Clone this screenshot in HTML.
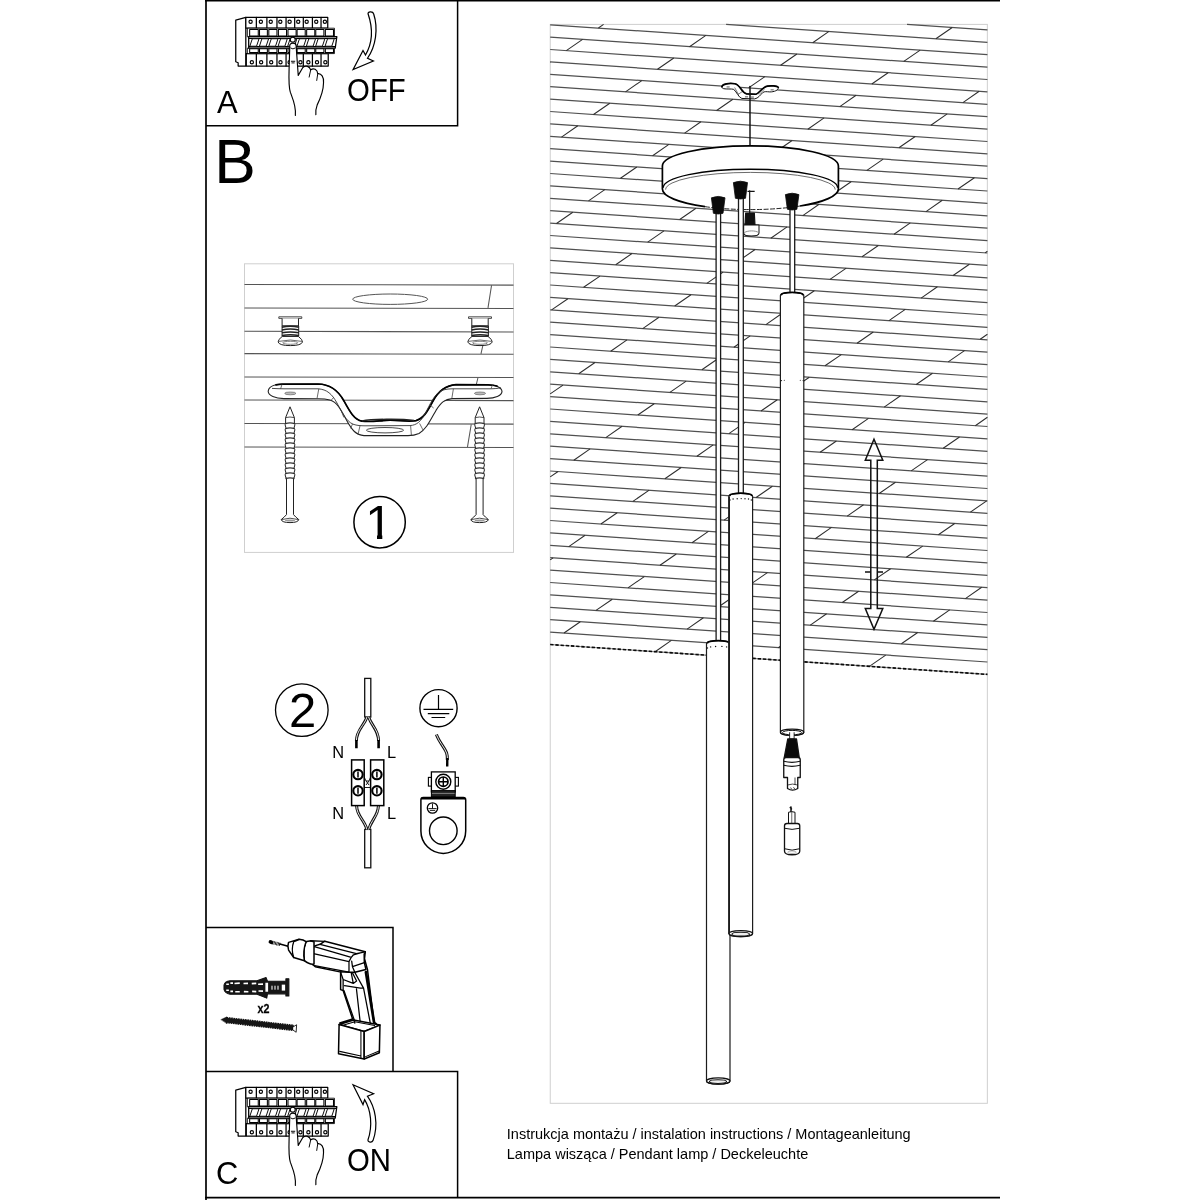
<!DOCTYPE html>
<html lang="pl"><head><meta charset="utf-8"><title>Instrukcja montażu</title>
<style>
html,body{margin:0;padding:0;background:#fff;}
body{width:1200px;height:1200px;overflow:hidden;position:relative;font-family:"Liberation Sans",sans-serif;}
svg{position:absolute;left:0;top:0;display:block;will-change:transform}
svg text{font-family:"Liberation Sans",sans-serif;fill:#000}
</style></head><body>
<svg width="1200" height="1200" viewBox="0 0 1200 1200">
<rect x="550.25" y="24.4" width="437.1" height="1078.9" fill="#fff" stroke="#cfcfcf" stroke-width="1"/>
<path d="M907.0 24.4L987.4 29.9M726.1 24.4L987.4 42.3M550.2 24.8L987.4 54.7M550.2 37.1L987.4 67.1M550.2 49.5L987.4 79.5M550.2 61.9L987.4 91.9M550.2 74.3L987.4 104.3M550.2 86.7L987.4 116.7M550.2 99.1L987.4 129.1M550.2 111.5L987.4 141.5M550.2 123.9L987.4 153.9M550.2 136.3L987.4 166.2M550.2 148.7L987.4 178.6M550.2 161.1L987.4 191.0M550.2 173.5L987.4 203.4M550.2 185.9L987.4 215.8M550.2 198.3L987.4 228.2M550.2 210.7L987.4 240.6M550.2 223.1L987.4 253.0M550.2 235.5L987.4 265.4M550.2 247.9L987.4 277.8M550.2 260.3L987.4 290.2M550.2 272.6L987.4 302.6M550.2 285.0L987.4 315.0M550.2 297.4L987.4 327.4M550.2 309.8L987.4 339.8M550.2 322.2L987.4 352.2M550.2 334.6L987.4 364.6M550.2 347.0L987.4 377.0M550.2 359.4L987.4 389.4M550.2 371.8L987.4 401.8M550.2 384.2L987.4 414.1M550.2 396.6L987.4 426.5M550.2 409.0L987.4 438.9M550.2 421.4L987.4 451.3M550.2 433.8L987.4 463.7M550.2 446.2L987.4 476.1M550.2 458.6L987.4 488.5M550.2 471.0L987.4 500.9M550.2 483.4L987.4 513.3M550.2 495.8L987.4 525.7M550.2 508.2L987.4 538.1M550.2 520.5L987.4 550.5M550.2 532.9L987.4 562.9M550.2 545.3L987.4 575.3M550.2 557.7L987.4 587.7M550.2 570.1L987.4 600.1M550.2 582.5L987.4 612.5M550.2 594.9L987.4 624.9M550.2 607.3L987.4 637.3M550.2 619.7L987.4 649.7M550.2 632.1L987.4 662.0" fill="none" stroke="#505050" stroke-width="1.25"/>
<path d="M935.9 38.8L952.2 27.5M598.4 28.0L603.6 24.4M812.7 42.7L829.0 31.4M689.5 46.7L705.9 35.4M903.8 61.4L920.2 50.1M566.3 50.6L582.6 39.4M780.6 65.3L796.9 54.0M657.5 69.3L673.8 58.0M871.8 84.0L888.1 72.7M550.2 62.2L550.6 62.0M748.6 87.9L764.9 76.6M962.9 102.6L979.2 91.3M625.5 91.9L641.8 80.6M839.8 106.6L856.1 95.3M716.6 110.5L732.9 99.2M930.9 125.2L947.2 113.9M593.5 114.5L609.8 103.2M807.8 129.2L824.1 117.9M684.6 133.1L700.9 121.8M898.9 147.8L915.2 136.5M561.5 137.1L577.8 125.8M775.8 151.8L792.1 140.5M652.6 155.7L668.9 144.4M866.9 170.4L883.2 159.1M743.8 174.3L760.1 163.1M958.0 189.0L974.4 177.8M620.5 178.3L636.8 167.0M834.8 193.0L851.1 181.7M711.7 196.9L728.0 185.7M926.0 211.6L942.3 200.3M588.5 200.9L604.8 189.6M802.8 215.6L819.1 204.3M679.7 219.5L696.0 208.3M894.0 234.2L910.3 222.9M556.5 223.5L572.8 212.2M770.8 238.2L787.1 226.9M985.1 252.9L987.4 251.3M647.7 242.1L664.0 230.9M862.0 256.8L878.3 245.5M738.8 260.8L755.1 249.5M953.1 275.5L969.4 264.2M615.7 264.7L632.0 253.5M830.0 279.4L846.3 268.1M706.8 283.4L723.1 272.1M921.1 298.1L937.4 286.8M583.6 287.3L600.0 276.1M797.9 302.0L814.3 290.7M674.7 306.0L691.0 294.7M889.0 320.6L905.3 309.4M551.6 309.9L567.9 298.7M765.9 324.6L782.2 313.3M980.2 339.3L987.4 334.3M642.7 328.6L659.0 317.3M857.0 343.2L873.3 332.0M733.9 347.2L750.2 335.9M948.2 361.9L964.5 350.6M610.7 351.2L627.0 339.9M825.0 365.8L841.3 354.6M701.9 369.8L718.2 358.5M916.2 384.5L932.5 373.2M578.7 373.8L595.0 362.5M793.0 388.4L809.3 377.2M669.9 392.4L686.2 381.1M884.2 407.1L900.5 395.8M550.2 393.9L563.0 385.1M761.0 411.0L777.3 399.8M975.3 425.7L987.4 417.3M637.8 415.0L654.2 403.7M852.1 429.7L868.5 418.4M728.9 433.6L745.2 422.4M943.2 448.3L959.5 437.0M605.8 437.6L622.1 426.3M820.1 452.3L836.4 441.0M696.9 456.2L713.2 444.9M911.2 470.9L927.5 459.6M573.8 460.2L590.1 448.9M788.1 474.9L804.4 463.6M664.9 478.8L681.2 467.5M879.2 493.5L895.5 482.2M550.2 476.9L558.1 471.5M756.1 497.5L772.4 486.2M970.4 512.1L986.7 500.9M632.9 501.4L649.2 490.1M847.2 516.1L863.5 504.8M724.1 520.1L740.4 508.8M938.4 534.7L954.7 523.5M600.9 524.0L617.2 512.7M815.2 538.7L831.5 527.4M692.0 542.7L708.4 531.4M906.3 557.3L922.7 546.1M568.8 546.6L585.1 535.3M783.1 561.3L799.4 550.0M660.0 565.3L676.3 554.0M874.3 579.9L890.6 568.7M550.2 559.9L553.1 557.9M751.1 583.9L767.4 572.6M965.4 598.6L981.7 587.3M628.0 587.9L644.3 576.6M842.3 602.5L858.6 591.3M719.1 606.5L735.4 595.2M933.4 621.2L949.7 609.9M596.0 610.4L612.3 599.2M810.3 625.1L826.6 613.8M687.1 629.1L703.4 617.8M901.4 643.8L917.7 632.5M564.0 633.0L580.3 621.8M778.3 647.7L794.6 636.4M655.1 651.7L671.4 640.4M869.4 666.4L885.7 655.1" fill="none" stroke="#2e2e2e" stroke-width="1.05"/>
<path d="M550.2 644.5L987.4 674.4" fill="none" stroke="#888" stroke-width="1.1"/>
<path d="M550.2 644.5L987.4 674.4" fill="none" stroke="#0a0a0a" stroke-width="1.6" stroke-dasharray="3.3 1.9"/>
<g transform="translate(715,75) scale(0.05833)" stroke-linejoin="round" stroke-linecap="round"><path d="M118 200 C125 150 250 135 340 150 C440 170 450 300 540 322 L700 330 C760 320 800 210 900 190 C960 180 1060 185 1085 210 C1095 260 1010 292 940 290 C880 285 850 280 820 300 C780 340 740 400 680 410 L460 402 C400 380 380 300 320 245 C280 235 200 245 150 235 C125 228 115 215 118 200 Z" fill="#fff" stroke="#111" stroke-width="17"/><path d="M118 200 C125 150 250 135 340 150 C440 170 450 300 540 322 L700 330 C760 320 800 210 900 190 C960 180 1060 185 1085 210" fill="none" stroke="#000" stroke-width="30"/><path d="M340 220 L400 330 M400 330 L460 290 M760 330 L840 250" fill="none" stroke="#222" stroke-width="10"/><path d="M205 205 H245 M960 255 H1000 M520 375 H560 M620 378 H660" fill="none" stroke="#333" stroke-width="14"/><path d="M600 195 L600 1230" fill="none" stroke="#111" stroke-width="25"/></g>
<path d="M662.4 189.0 L662.4 166.0 A88.0 20.2 0 0 1 838.4 166.0 L838.4 189.0 A88.0 20.6 0 0 1 662.4 189.0 Z" fill="#fff" stroke="none"/>
<path d="M705 206.65 A88.0 20.6 0 0 1 662.4 189.0 L662.4 166.0 A88.0 20.2 0 0 1 838.4 166.0 L838.4 189.0 A88.0 20.6 0 0 1 800 206.0" fill="none" stroke="#000" stroke-width="1.7" stroke-linejoin="round"/>
<path d="M705 206.65 A88.0 20.6 0 0 0 800 206.0" fill="none" stroke="#222" stroke-width="1.0" stroke-dasharray="5 1.5"/>
<path d="M663.1999999999999 187.8 A87.2 18.6 0 0 1 837.6 187.8" fill="none" stroke="#000" stroke-width="1.35"/>
<path d="M665.6 189.6 A84.8 17.200000000000003 0 0 1 835.1999999999999 189.6" fill="none" stroke="#444" stroke-width="0.8"/>
<g transform="translate(650,70) scale(0.166667)" stroke="#111" stroke-width="7" stroke-linejoin="round"><path d="M598 722 L598 860 M585 728 L628 728" fill="none"/><path d="M574 858 L626 858 L630 930 L570 930 Z" fill="#111"/><path d="M562 930 L654 930 L654 978 C654 1002 562 1002 562 978 Z" fill="#fff" stroke-width="6"/><path d="M566 975 C590 962 630 962 652 975" fill="none" stroke="#777" stroke-width="5"/></g>
<rect x="716.1" y="205" width="4.50" height="437" fill="#fff"/><path d="M716.1 205V642M720.6 205V642" stroke="#1a1a1a" stroke-width="1.3" fill="none"/>
<rect x="738.5" y="190" width="4.80" height="305" fill="#fff"/><path d="M738.5 190V495M743.3 190V495" stroke="#1a1a1a" stroke-width="1.3" fill="none"/>
<rect x="790.0" y="200" width="4.70" height="94" fill="#fff"/><path d="M790.0 200V294M794.7 200V294" stroke="#1a1a1a" stroke-width="1.3" fill="none"/>
<path d="M711.4 197.79999999999998 Q718.2 195.0 725.0 197.79999999999998 L723.0 213.3 Q718.2 214.70000000000002 713.4 213.3 Z" fill="#0a0a0a" stroke="#0a0a0a" stroke-width="0.8" stroke-linejoin="round"/>
<path d="M733.4 182.6 Q740.45 179.8 747.5 182.6 L745.5 198.3 Q740.45 199.70000000000002 735.4 198.3 Z" fill="#0a0a0a" stroke="#0a0a0a" stroke-width="0.8" stroke-linejoin="round"/>
<path d="M785.4 194.6 Q792.15 191.8 798.9 194.6 L796.9 209.3 Q792.15 210.70000000000002 787.4 209.3 Z" fill="#0a0a0a" stroke="#0a0a0a" stroke-width="0.8" stroke-linejoin="round"/>
<path d="M780.4 732.2 L780.4 295.8 Q780.4 293.8 783.4 293.4 Q792.0999999999999 291.59999999999997 800.8 293.4 Q803.8 293.8 803.8 295.8 L803.8 732.2 A11.699999999999989 3.1 0 0 1 780.4 732.2 Z" fill="#fff" stroke="#1c1c1c" stroke-width="1.2" stroke-linejoin="round"/><path d="M781.6 294.5 Q782.0 293.5 783.8 293.2 Q792.0999999999999 291.5 800.4 293.2 Q802.1999999999999 293.5 802.5999999999999 294.5" fill="none" stroke="#000" stroke-width="1.7" stroke-linecap="round"/><ellipse cx="792.0999999999999" cy="732.2" rx="11.699999999999989" ry="3.1" fill="#fff" stroke="#111" stroke-width="1.25"/>
<ellipse cx="792.1" cy="732.6" rx="9.6" ry="2.2" fill="#fff" stroke="#111" stroke-width="1"/>
<g fill="#222"><circle cx="781.4" cy="380.6" r="0.7"/><circle cx="784.3" cy="380.3" r="0.55"/><circle cx="800.3" cy="380.3" r="0.55"/><circle cx="803.2" cy="380.6" r="0.7"/></g>
<path d="M706.5 1081.0 L706.5 644.0 Q706.5 642.0 709.5 641.6 Q718.25 639.8 727.0 641.6 Q730.0 642.0 730.0 644.0 L730.0 1081.0 A11.75 3.1 0 0 1 706.5 1081.0 Z" fill="#fff" stroke="#1c1c1c" stroke-width="1.2" stroke-linejoin="round"/><path d="M707.7 642.6999999999999 Q708.1 641.6999999999999 709.9 641.4 Q718.25 639.6999999999999 726.6 641.4 Q728.4 641.6999999999999 728.8 642.6999999999999" fill="none" stroke="#000" stroke-width="1.7" stroke-linecap="round"/><ellipse cx="718.25" cy="1081.0" rx="11.75" ry="3.1" fill="#fff" stroke="#111" stroke-width="1.25"/>
<ellipse cx="718.0" cy="1081.6" rx="8.6" ry="1.9" fill="#eee" stroke="#111" stroke-width="1.1"/>
<g fill="#111"><circle cx="707.5" cy="648.0" r="0.7"/><circle cx="710.6" cy="646.9" r="0.7"/><circle cx="715.6" cy="646.5" r="0.7"/><circle cx="721.9" cy="646.4" r="0.7"/><circle cx="726.6" cy="646.9" r="0.7"/></g>
<path d="M728.9 933.6 L728.9 496.6 Q728.9 494.6 731.9 494.2 Q740.75 492.4 749.6 494.2 Q752.6 494.6 752.6 496.6 L752.6 933.6 A11.850000000000023 3.1 0 0 1 728.9 933.6 Z" fill="#fff" stroke="#1c1c1c" stroke-width="1.2" stroke-linejoin="round"/><path d="M730.1 495.3 Q730.5 494.3 732.3 494.0 Q740.75 492.3 749.2 494.0 Q751.0 494.3 751.4 495.3" fill="none" stroke="#000" stroke-width="1.7" stroke-linecap="round"/><ellipse cx="740.75" cy="933.6" rx="11.850000000000023" ry="3.1" fill="#fff" stroke="#111" stroke-width="1.25"/>
<ellipse cx="740.7" cy="934.2" rx="8.8" ry="1.9" fill="#eee" stroke="#111" stroke-width="1.1"/>
<g fill="#111"><circle cx="730.0" cy="500.0" r="0.7"/><circle cx="733.1" cy="499.0" r="0.7"/><circle cx="737.2" cy="498.7" r="0.7"/><circle cx="741.2" cy="498.6" r="0.7"/><circle cx="745.0" cy="498.7" r="0.7"/><circle cx="748.5" cy="499.0" r="0.7"/><circle cx="751.3" cy="500.0" r="0.7"/></g>
<path d="M729.15 496.5 V933.8" stroke="#1c1c1c" stroke-width="1.7" fill="none"/>
<g transform="translate(740,720) scale(0.125)" stroke="#111" stroke-width="10.5" stroke-linejoin="round" fill="#fff"><path d="M397 98 L397 152 L433 152 L433 98" stroke-width="7"/><path d="M382 152 L452 152 L474 300 L354 300 Z" fill="#0a0a0a"/><path d="M350 318 Q350 300 368 300 L464 300 Q482 300 482 318 L482 460 L462 460 L462 548 Q420 575 380 548 L380 460 L350 460 Z"/><path d="M350 330 Q415 348 482 330 M350 362 Q415 380 482 362" fill="none" stroke-width="10"/><path d="M440 460 L440 520 M380 520 Q420 505 462 520 M405 540 L412 552 M428 538 L438 552" fill="none" stroke-width="6"/><path d="M402 700 L412 712 M408 695 L408 735" fill="none" stroke-width="12" stroke-linecap="round"/><path d="M388 738 Q414 728 440 738 L440 828 L388 828 Z" stroke-width="8"/><path d="M414 735 L414 826" fill="none" stroke-width="5"/><path d="M356 846 Q356 828 376 828 L458 828 Q478 828 478 846 L478 1050 Q478 1078 416 1078 Q356 1078 356 1050 Z"/><path d="M356 866 Q416 884 478 866 M358 1030 Q416 1052 476 1030" fill="none" stroke-width="8"/><ellipse cx="416" cy="1058" rx="34" ry="10" fill="none" stroke="#888" stroke-width="5"/></g>
<path d="M874 439.3 L882.8 460.3 L877.3 460.3 L877.3 608.6 L882.8 608.6 L874 629.3 L865.3 608.6 L870.8 608.6 L870.8 460.3 L865.3 460.3 Z" fill="none" stroke="#111" stroke-width="1.5" stroke-linejoin="miter"/>
<path d="M865 572 H870.8 M877.3 572 H883" stroke="#111" stroke-width="1.5" fill="none"/>
<path d="M205 0.6 H1000" stroke="#000" stroke-width="1.8" fill="none"/>
<path d="M205 1197.6 H1000" stroke="#000" stroke-width="1.8" fill="none"/>
<path d="M206 0 V1200" stroke="#000" stroke-width="1.7" fill="none"/>
<path d="M206 125.7 H457.6 V0" stroke="#000" stroke-width="1.5" fill="none"/>
<path d="M206 927.6 H393 V1071.6" stroke="#000" stroke-width="1.5" fill="none"/>
<path d="M206 1071.6 H457.6 V1197" stroke="#000" stroke-width="1.5" fill="none"/>
<text x="216.9" y="112.8" font-size="30.9">A</text>
<text x="214.2" y="182.6" font-size="62.3">B</text>
<text x="215.9" y="1183.7" font-size="30.9">C</text>
<text transform="translate(347.1,101.35) scale(0.95,1)" font-size="30.9">OFF</text>
<text transform="translate(346.9,1170.6) scale(0.95,1)" font-size="30.9">ON</text>
<text x="506.8" y="1138.5" font-size="14.5">Instrukcja montażu / instalation instructions / Montageanleitung</text>
<text x="506.8" y="1158.7" font-size="14.5">Lampa wisząca / Pendant lamp / Deckeleuchte</text>
<g transform="translate(230,10) scale(0.09583)" fill="#fff" stroke="#000" stroke-width="13" stroke-linejoin="round" stroke-linecap="round"><path d="M165 78 L60 105 L60 540 L85 550 L85 585 L165 585 Z"/><rect x="165" y="78" width="855" height="112"/><path d="M275 78V190M385 78V190M490 78V190M585 78V190M675 78V190M765 78V190M860 78V190M950 78V190" fill="none"/><circle cx="215" cy="122" r="17" stroke-width="12"/><circle cx="322" cy="122" r="17" stroke-width="12"/><circle cx="425" cy="122" r="17" stroke-width="12"/><circle cx="525" cy="122" r="17" stroke-width="12"/><circle cx="622" cy="122" r="17" stroke-width="12"/><circle cx="712" cy="122" r="17" stroke-width="12"/><circle cx="800" cy="122" r="17" stroke-width="12"/><circle cx="900" cy="122" r="17" stroke-width="12"/><circle cx="990" cy="122" r="17" stroke-width="12"/><rect x="170" y="455" width="855" height="130"/><path d="M275 455V585M385 455V585M490 455V585M585 455V585M675 455V585M765 455V585M860 455V585M950 455V585" fill="none"/><circle cx="228" cy="545" r="17" stroke-width="12"/><circle cx="325" cy="545" r="17" stroke-width="12"/><circle cx="430" cy="545" r="17" stroke-width="12"/><circle cx="527" cy="545" r="17" stroke-width="12"/><circle cx="622" cy="545" r="17" stroke-width="12"/><circle cx="735" cy="545" r="17" stroke-width="12"/><circle cx="818" cy="545" r="17" stroke-width="12"/><circle cx="908" cy="545" r="17" stroke-width="12"/><circle cx="995" cy="545" r="17" stroke-width="12"/><path d="M185 190 H1090 V280 H185 Z M185 398 H1090 V455 H185 Z" stroke-width="9"/><rect x="205" y="203" width="90" height="68" stroke-width="11"/><rect x="205" y="405" width="90" height="40" stroke-width="11"/><rect x="308" y="203" width="82" height="68" stroke-width="11"/><rect x="308" y="405" width="82" height="40" stroke-width="11"/><rect x="405" y="203" width="85" height="68" stroke-width="11"/><rect x="405" y="405" width="85" height="40" stroke-width="11"/><rect x="505" y="203" width="85" height="68" stroke-width="11"/><rect x="505" y="405" width="85" height="40" stroke-width="11"/><rect x="605" y="203" width="85" height="68" stroke-width="11"/><rect x="605" y="405" width="85" height="40" stroke-width="11"/><rect x="700" y="203" width="85" height="68" stroke-width="11"/><rect x="700" y="405" width="85" height="40" stroke-width="11"/><rect x="800" y="203" width="85" height="68" stroke-width="11"/><rect x="800" y="405" width="85" height="40" stroke-width="11"/><rect x="895" y="203" width="85" height="68" stroke-width="11"/><rect x="895" y="405" width="85" height="40" stroke-width="11"/><rect x="995" y="203" width="85" height="68" stroke-width="11"/><rect x="995" y="405" width="85" height="40" stroke-width="11"/><path d="M195 278 L1115 278 L1098 398 L195 398 Z"/><path d="M200 296 L1110 296 M200 383 L1100 383" fill="none" stroke-width="13"/><path d="M237 300 L303 300 L277 378 L211 378 Z" stroke-width="10"/><path d="M337 300 L403 300 L377 378 L311 378 Z" stroke-width="10"/><path d="M435 300 L501 300 L475 378 L409 378 Z" stroke-width="10"/><path d="M532 300 L598 300 L572 378 L506 378 Z" stroke-width="10"/><path d="M632 300 L698 300 L672 378 L606 378 Z" stroke-width="10"/><path d="M729 300 L795 300 L769 378 L703 378 Z" stroke-width="10"/><path d="M827 300 L893 300 L867 378 L801 378 Z" stroke-width="10"/><path d="M924 300 L990 300 L964 378 L898 378 Z" stroke-width="10"/><path d="M1022 300 L1088 300 L1062 378 L996 378 Z" stroke-width="10"/><path d="M682 1100 C692 1000 652 920 630 860 C610 800 614 700 617 600 L624 368 C624 338 690 338 690 372 L712 682 L760 600 C790 572 832 588 842 625 C872 600 912 620 916 665 C952 660 982 700 976 760 C975 850 940 930 910 990 C895 1030 893 1060 896 1092" stroke-width="12"/><path d="M842 625 L826 700 M916 665 L905 735 M634 398 Q656 416 680 398 M640 535 H676 M646 552 H670" fill="none" stroke-width="10"/><circle cx="655" cy="310" r="26" stroke-width="12"/></g>
<g transform="translate(230,1080) scale(0.09583)" fill="#fff" stroke="#000" stroke-width="13" stroke-linejoin="round" stroke-linecap="round"><path d="M165 78 L60 105 L60 540 L85 550 L85 585 L165 585 Z"/><rect x="165" y="78" width="855" height="112"/><path d="M275 78V190M385 78V190M490 78V190M585 78V190M675 78V190M765 78V190M860 78V190M950 78V190" fill="none"/><circle cx="215" cy="122" r="17" stroke-width="12"/><circle cx="322" cy="122" r="17" stroke-width="12"/><circle cx="425" cy="122" r="17" stroke-width="12"/><circle cx="525" cy="122" r="17" stroke-width="12"/><circle cx="622" cy="122" r="17" stroke-width="12"/><circle cx="712" cy="122" r="17" stroke-width="12"/><circle cx="800" cy="122" r="17" stroke-width="12"/><circle cx="900" cy="122" r="17" stroke-width="12"/><circle cx="990" cy="122" r="17" stroke-width="12"/><rect x="170" y="455" width="855" height="130"/><path d="M275 455V585M385 455V585M490 455V585M585 455V585M675 455V585M765 455V585M860 455V585M950 455V585" fill="none"/><circle cx="228" cy="545" r="17" stroke-width="12"/><circle cx="325" cy="545" r="17" stroke-width="12"/><circle cx="430" cy="545" r="17" stroke-width="12"/><circle cx="527" cy="545" r="17" stroke-width="12"/><circle cx="622" cy="545" r="17" stroke-width="12"/><circle cx="735" cy="545" r="17" stroke-width="12"/><circle cx="818" cy="545" r="17" stroke-width="12"/><circle cx="908" cy="545" r="17" stroke-width="12"/><circle cx="995" cy="545" r="17" stroke-width="12"/><path d="M185 190 H1090 V280 H185 Z M185 398 H1090 V455 H185 Z" stroke-width="9"/><rect x="205" y="203" width="90" height="68" stroke-width="11"/><rect x="205" y="405" width="90" height="40" stroke-width="11"/><rect x="308" y="203" width="82" height="68" stroke-width="11"/><rect x="308" y="405" width="82" height="40" stroke-width="11"/><rect x="405" y="203" width="85" height="68" stroke-width="11"/><rect x="405" y="405" width="85" height="40" stroke-width="11"/><rect x="505" y="203" width="85" height="68" stroke-width="11"/><rect x="505" y="405" width="85" height="40" stroke-width="11"/><rect x="605" y="203" width="85" height="68" stroke-width="11"/><rect x="605" y="405" width="85" height="40" stroke-width="11"/><rect x="700" y="203" width="85" height="68" stroke-width="11"/><rect x="700" y="405" width="85" height="40" stroke-width="11"/><rect x="800" y="203" width="85" height="68" stroke-width="11"/><rect x="800" y="405" width="85" height="40" stroke-width="11"/><rect x="895" y="203" width="85" height="68" stroke-width="11"/><rect x="895" y="405" width="85" height="40" stroke-width="11"/><rect x="995" y="203" width="85" height="68" stroke-width="11"/><rect x="995" y="405" width="85" height="40" stroke-width="11"/><path d="M195 278 L1115 278 L1098 398 L195 398 Z"/><path d="M200 296 L1110 296 M200 383 L1100 383" fill="none" stroke-width="13"/><path d="M237 300 L303 300 L277 378 L211 378 Z" stroke-width="10"/><path d="M337 300 L403 300 L377 378 L311 378 Z" stroke-width="10"/><path d="M435 300 L501 300 L475 378 L409 378 Z" stroke-width="10"/><path d="M532 300 L598 300 L572 378 L506 378 Z" stroke-width="10"/><path d="M632 300 L698 300 L672 378 L606 378 Z" stroke-width="10"/><path d="M729 300 L795 300 L769 378 L703 378 Z" stroke-width="10"/><path d="M827 300 L893 300 L867 378 L801 378 Z" stroke-width="10"/><path d="M924 300 L990 300 L964 378 L898 378 Z" stroke-width="10"/><path d="M1022 300 L1088 300 L1062 378 L996 378 Z" stroke-width="10"/><path d="M682 1100 C692 1000 652 920 630 860 C610 800 614 700 617 600 L624 368 C624 338 690 338 690 372 L712 682 L760 600 C790 572 832 588 842 625 C872 600 912 620 916 665 C952 660 982 700 976 760 C975 850 940 930 910 990 C895 1030 893 1060 896 1092" stroke-width="12"/><path d="M842 625 L826 700 M916 665 L905 735 M634 398 Q656 416 680 398 M640 535 H676 M646 552 H670" fill="none" stroke-width="10"/><circle cx="655" cy="310" r="26" stroke-width="12"/></g>
<path transform="translate(330,0) scale(0.125)" d="M305 112 C298 92 342 86 349 110 C388 230 366 372 300 466 L347 488 L185 556 L264 404 L284 440 C336 350 346 232 305 112 Z" fill="#fff" stroke="#000" stroke-width="10" stroke-linejoin="miter"/>
<path transform="translate(330,1070) scale(0.1)" d="M230 148 L436 238 L374 262 C452 370 488 545 430 706 C420 730 376 724 380 698 C428 560 410 400 346 296 L330 346 Z" fill="#fff" stroke="#000" stroke-width="12" stroke-linejoin="miter"/>
<rect x="244.5" y="263.8" width="269.0" height="288.6" fill="#fff" stroke="#cfcfcf" stroke-width="1"/>
<path d="M244.5 284.5L513.5 285.1M244.5 307.9L513.5 308.5M244.5 331.3L513.5 331.90000000000003M244.5 353.6L513.5 354.20000000000005M244.5 376.9L513.5 377.5M244.5 400.0L513.5 400.6M244.5 423.5L513.5 424.1M244.5 446.9L513.5 447.5M491.6 285 L488 307.9 M483.2 344 L481 353.6 M478 377.5 L476.2 385 M471.3 424 L467.5 446.8" fill="none" stroke="#555" stroke-width="1.05"/>
<ellipse cx="390.2" cy="299.2" rx="37.5" ry="5.2" fill="#fff" stroke="#555" stroke-width="1"/>
<g transform="translate(290.3,0)" stroke="#222" stroke-width="1" fill="#fff" stroke-linejoin="round"><path d="M-11.5 316.8 H11.5 V318.4 H-11.5 Z" stroke-width="0.8"/><path d="M-8.2 318.4 V326 H8.2 V318.4" /><path d="M-8.2 326 H8.4 V336.4 H-8.2 Z" fill="#fff"/><path d="M-8.4 327.2 Q0 325.4 8.6 327.2 M-8.4 330 Q0 328.2 8.6 330 M-8.4 332.8 Q0 331 8.6 332.8 M-8.4 335.6 Q0 333.8 8.6 335.6" fill="none" stroke="#222" stroke-width="1.5"/><path d="M-8 336.4 Q-12.4 339.6 -12.2 342 Q-11 345.6 0 345.6 Q11 345.6 12.2 342 Q12.4 339.6 8 336.4 Z"/><path d="M-11.6 341.4 Q0 338.6 11.6 341.4" fill="none" stroke="#444" stroke-width="0.8"/><ellipse cx="0" cy="342.8" rx="7.5" ry="1.5" fill="none" stroke="#666" stroke-width="0.8"/></g>
<g transform="translate(480.0,0)" stroke="#222" stroke-width="1" fill="#fff" stroke-linejoin="round"><path d="M-11.5 316.8 H11.5 V318.4 H-11.5 Z" stroke-width="0.8"/><path d="M-8.2 318.4 V326 H8.2 V318.4" /><path d="M-8.2 326 H8.4 V336.4 H-8.2 Z" fill="#fff"/><path d="M-8.4 327.2 Q0 325.4 8.6 327.2 M-8.4 330 Q0 328.2 8.6 330 M-8.4 332.8 Q0 331 8.6 332.8 M-8.4 335.6 Q0 333.8 8.6 335.6" fill="none" stroke="#222" stroke-width="1.5"/><path d="M-8 336.4 Q-12.4 339.6 -12.2 342 Q-11 345.6 0 345.6 Q11 345.6 12.2 342 Q12.4 339.6 8 336.4 Z"/><path d="M-11.6 341.4 Q0 338.6 11.6 341.4" fill="none" stroke="#444" stroke-width="0.8"/><ellipse cx="0" cy="342.8" rx="7.5" ry="1.5" fill="none" stroke="#666" stroke-width="0.8"/></g>
<path d="M268.2 391.5 C268.4 387 274 384.4 282 384.2 L318 384 C330 384.2 338 390 344 401 C350 412 354 419.5 362 421.2 C372 422.4 380 420.4 390 420.2 C400 420.2 408 422 416 420.6 C424 418.6 428 410 433 401 C438 391.6 445 385.4 456 384.6 L488 384.8 C496 385 501.8 387.6 502 391.6 C501.6 395.6 495 398.2 487 398.4 L452 398.6 C445 399 441 402.4 436 410.4 C430 421 426 429.6 419 433.4 C415 435.2 412 435.6 408 435.6 L364 435.6 C356 435.2 352 430 347 421 C341 409.6 337 402 330 400 C326 399 322 398.8 318 398.8 L284 398.6 C275 398.4 268.4 395.6 268.2 391.5 Z" fill="#fff" stroke="#222" stroke-width="1.1" stroke-linejoin="round"/>
<path d="M276 384.8 Q279 384.3 282 384.2 L318 384 C330 384.2 338 390 344 401 C350 412 354 419.5 362 421.2 C372 422.4 380 420.4 390 420.2 C400 420.2 408 422 416 420.6 C424 418.6 428 410 433 401 C438 391.6 445 385.4 456 384.6 L488 384.8 C492 384.9 495 385.4 497 386 " fill="none" stroke="#000" stroke-width="1.7" stroke-linecap="round"/>
<path d="M272 388.4 C276 388.6 280 388.8 284 388.8 L318 388.8 C327 389.4 332 394 337 403 C342 412.6 346 421 353 424.2 C357 425.6 361 425.8 365 425.8 L410 425.6 C417 425.2 421 421 425 414 C430 404.6 434 394 442 390.4 C446 389 450 388.8 454 388.8 L490 388.8 C494 388.8 498 388.4 501 387.8" fill="none" stroke="#333" stroke-width="0.9"/>
<path d="M318.8 388.8 L317 398.6 M334 397 L331 400.4 M343.8 417.4 L341.8 412 M352.6 423.8 L350.6 428.4 M360 425.8 L358 434.4 M410.6 425.6 L411.4 435.2 M419.6 423.4 L423 430 M430 405 L433.6 408 M453.4 388.8 L451.8 398.6 M282 384.4 L280.6 388.8 M491 388.6 L492.6 384.8" fill="none" stroke="#444" stroke-width="0.8"/>
<path d="M362 421 C372 419 400 418.6 414 420.4" fill="none" stroke="#222" stroke-width="1.4"/>
<ellipse cx="385" cy="430.2" rx="18.6" ry="2.7" fill="#fff" stroke="#333" stroke-width="0.9"/>
<ellipse cx="290.3" cy="393.4" rx="5.6" ry="1.4" fill="#bbb" stroke="#666" stroke-width="0.7"/>
<ellipse cx="480" cy="393.4" rx="5.6" ry="1.4" fill="#bbb" stroke="#666" stroke-width="0.7"/>
<g transform="translate(290.0,0)" stroke="#222" stroke-width="1" fill="#fff" stroke-linejoin="round"><path d="M0 406.8 L-4.4 417.6 L-4.4 423 L-4.9 424.8 L-4.0 428.0 L-4.9 429.8 L-4.0 433.0 L-4.9 434.8 L-4.0 438.0 L-4.9 439.8 L-4.0 443.0 L-4.9 444.8 L-4.0 448.0 L-4.9 449.8 L-4.0 453.0 L-4.9 454.8 L-4.0 458.0 L-4.9 459.8 L-4.0 463.0 L-4.9 464.8 L-4.0 468.0 L-4.9 469.8 L-4.0 473.0 L-4.9 474.8 L-4.0 478.0 L-3.5 478 L-3.5 514.6 Q-5.5 517 -8.8 519.6 Q-8 522.6 0 522.6 Q8 522.6 8.8 519.6 Q5.5 517 3.5 514.6 L3.5 478 L4.0 478.0 L4.9 474.8 L4.0 473.0 L4.9 469.8 L4.0 468.0 L4.9 464.8 L4.0 463.0 L4.9 459.8 L4.0 458.0 L4.9 454.8 L4.0 453.0 L4.9 449.8 L4.0 448.0 L4.9 444.8 L4.0 443.0 L4.9 439.8 L4.0 438.0 L4.9 434.8 L4.0 433.0 L4.9 429.8 L4.0 428.0 L4.9 424.8 L4.4 423 L4.4 417.6 Z"/><path d="M-4.4 417.6 Q0 416.4 4.4 417.6" fill="none" stroke-width="0.8"/><path d="M-4.6 423.6 Q0 422.0 4.6 423.6M-4.6 428.6 Q0 427.0 4.6 428.6M-4.6 433.6 Q0 432.0 4.6 433.6M-4.6 438.6 Q0 437.0 4.6 438.6M-4.6 443.6 Q0 442.0 4.6 443.6M-4.6 448.6 Q0 447.0 4.6 448.6M-4.6 453.6 Q0 452.0 4.6 453.6M-4.6 458.6 Q0 457.0 4.6 458.6M-4.6 463.6 Q0 462.0 4.6 463.6M-4.6 468.6 Q0 467.0 4.6 468.6M-4.6 473.6 Q0 472.0 4.6 473.6M-4.6 478.6 Q0 477.0 4.6 478.6" fill="none" stroke="#333" stroke-width="1.2"/><path d="M-8.6 519.6 Q0 516.8 8.6 519.6" fill="none" stroke-width="0.8"/><ellipse cx="0" cy="520.6" rx="5" ry="1" fill="#999" stroke="none"/></g>
<g transform="translate(479.6,0)" stroke="#222" stroke-width="1" fill="#fff" stroke-linejoin="round"><path d="M0 406.8 L-4.4 417.6 L-4.4 423 L-4.9 424.8 L-4.0 428.0 L-4.9 429.8 L-4.0 433.0 L-4.9 434.8 L-4.0 438.0 L-4.9 439.8 L-4.0 443.0 L-4.9 444.8 L-4.0 448.0 L-4.9 449.8 L-4.0 453.0 L-4.9 454.8 L-4.0 458.0 L-4.9 459.8 L-4.0 463.0 L-4.9 464.8 L-4.0 468.0 L-4.9 469.8 L-4.0 473.0 L-4.9 474.8 L-4.0 478.0 L-3.5 478 L-3.5 514.6 Q-5.5 517 -8.8 519.6 Q-8 522.6 0 522.6 Q8 522.6 8.8 519.6 Q5.5 517 3.5 514.6 L3.5 478 L4.0 478.0 L4.9 474.8 L4.0 473.0 L4.9 469.8 L4.0 468.0 L4.9 464.8 L4.0 463.0 L4.9 459.8 L4.0 458.0 L4.9 454.8 L4.0 453.0 L4.9 449.8 L4.0 448.0 L4.9 444.8 L4.0 443.0 L4.9 439.8 L4.0 438.0 L4.9 434.8 L4.0 433.0 L4.9 429.8 L4.0 428.0 L4.9 424.8 L4.4 423 L4.4 417.6 Z"/><path d="M-4.4 417.6 Q0 416.4 4.4 417.6" fill="none" stroke-width="0.8"/><path d="M-4.6 423.6 Q0 422.0 4.6 423.6M-4.6 428.6 Q0 427.0 4.6 428.6M-4.6 433.6 Q0 432.0 4.6 433.6M-4.6 438.6 Q0 437.0 4.6 438.6M-4.6 443.6 Q0 442.0 4.6 443.6M-4.6 448.6 Q0 447.0 4.6 448.6M-4.6 453.6 Q0 452.0 4.6 453.6M-4.6 458.6 Q0 457.0 4.6 458.6M-4.6 463.6 Q0 462.0 4.6 463.6M-4.6 468.6 Q0 467.0 4.6 468.6M-4.6 473.6 Q0 472.0 4.6 473.6M-4.6 478.6 Q0 477.0 4.6 478.6" fill="none" stroke="#333" stroke-width="1.2"/><path d="M-8.6 519.6 Q0 516.8 8.6 519.6" fill="none" stroke-width="0.8"/><ellipse cx="0" cy="520.6" rx="5" ry="1" fill="#999" stroke="none"/></g>
<circle cx="379.6" cy="522.2" r="25.7" fill="#fff" stroke="#000" stroke-width="1.5"/>
<clipPath id="c1"><path d="M350 495 H410 V534.4 H382.3 V545 H377.0 V534.4 H350 Z"/></clipPath>
<text x="379.0" y="538.9" font-size="49" text-anchor="middle" clip-path="url(#c1)">1</text>
<circle cx="301.8" cy="710.1" r="26.3" fill="#fff" stroke="#000" stroke-width="1.3"/>
<text x="302.6" y="726.7" font-size="49" text-anchor="middle">2</text>
<rect x="364.7" y="678.4" width="6.1" height="38.6" fill="#fff" stroke="#111" stroke-width="1.3"/>
<rect x="364.7" y="829.4" width="6.1" height="38.4" fill="#fff" stroke="#111" stroke-width="1.3"/>
<path d="M367 717 C364 726 356.4 730 356.4 741" fill="none" stroke="#111" stroke-width="3" stroke-linecap="butt"/><path d="M367 717 C364 726 356.4 730 356.4 741" fill="none" stroke="#fff" stroke-width="0.9" stroke-linecap="butt"/>
<path d="M368.6 717 C371.6 726 378.6 730 378.6 741" fill="none" stroke="#111" stroke-width="3" stroke-linecap="butt"/><path d="M368.6 717 C371.6 726 378.6 730 378.6 741" fill="none" stroke="#fff" stroke-width="0.9" stroke-linecap="butt"/>
<path d="M356.4 740 V748.2 M378.6 740 V748.2" stroke="#000" stroke-width="2.6" fill="none"/>
<path d="M356.6 806 C357 816 364.4 820 367 829.6" fill="none" stroke="#111" stroke-width="3" stroke-linecap="butt"/><path d="M356.6 806 C357 816 364.4 820 367 829.6" fill="none" stroke="#fff" stroke-width="0.9" stroke-linecap="butt"/>
<path d="M378.4 806 C378 816 371.2 820 368.6 829.6" fill="none" stroke="#111" stroke-width="3" stroke-linecap="butt"/><path d="M378.4 806 C378 816 371.2 820 368.6 829.6" fill="none" stroke="#fff" stroke-width="0.9" stroke-linecap="butt"/>
<rect x="351.6" y="759.9" width="12.6" height="45.7" fill="#fff" stroke="#000" stroke-width="1.5"/>
<rect x="370.6" y="759.9" width="13.2" height="45.7" fill="#fff" stroke="#000" stroke-width="1.5"/>
<path d="M364.2 777 L366 781 L369 781 L370.6 777 M364.2 787.5 H370.6 M366 781 L369 785 M369 781 L366 785" fill="none" stroke="#000" stroke-width="0.9"/>
<circle cx="358" cy="774.6" r="4.7" fill="#fff" stroke="#000" stroke-width="2.1"/>
<path d="M358 771.6 V777.6" stroke="#000" stroke-width="1.5"/>
<circle cx="376.9" cy="774.6" r="4.7" fill="#fff" stroke="#000" stroke-width="2.1"/>
<path d="M376.9 771.6 V777.6" stroke="#000" stroke-width="1.5"/>
<circle cx="358" cy="790.8" r="4.7" fill="#fff" stroke="#000" stroke-width="2.1"/>
<path d="M358 787.8 V793.8" stroke="#000" stroke-width="1.5"/>
<circle cx="376.9" cy="790.8" r="4.7" fill="#fff" stroke="#000" stroke-width="2.1"/>
<path d="M376.9 787.8 V793.8" stroke="#000" stroke-width="1.5"/>
<text x="332.2" y="757.6" font-size="16.4">N</text>
<text x="387.0" y="757.6" font-size="16.4">L</text>
<text x="332.2" y="818.9" font-size="16.4">N</text>
<text x="387.0" y="818.9" font-size="16.4">L</text>
<circle cx="438.5" cy="708.2" r="18.6" fill="#fff" stroke="#000" stroke-width="1.4"/>
<path d="M438.5 695 V709.3 M423.5 709.3 H453.2 M427.8 713.6 H449.3 M431.5 717.5 H445.2" stroke="#000" stroke-width="1.2" fill="none"/>
<path d="M436.4 734.6 C439 742 445 748 446.6 753 C447.6 756 447.4 758 447.3 760" fill="none" stroke="#111" stroke-width="3" stroke-linecap="butt"/><path d="M436.4 734.6 C439 742 445 748 446.6 753 C447.6 756 447.4 758 447.3 760" fill="none" stroke="#fff" stroke-width="0.9" stroke-linecap="butt"/>
<path d="M447.3 758 L447.2 766.4" stroke="#000" stroke-width="2.4" fill="none"/>
<rect x="428.4" y="777.4" width="30" height="8.7" fill="#fff" stroke="#000" stroke-width="1.1"/>
<rect x="431.4" y="771.9" width="23.8" height="20" fill="#fff" stroke="#000" stroke-width="1.3"/>
<rect x="431.4" y="790.6" width="23.8" height="6.4" fill="#222" stroke="#000" stroke-width="1"/>
<path d="M432 793.4 H454.6" stroke="#aaa" stroke-width="0.7"/>
<circle cx="443.3" cy="781.7" r="7.5" fill="#fff" stroke="#000" stroke-width="1.4"/>
<circle cx="443.3" cy="781.7" r="4.7" fill="#fff" stroke="#000" stroke-width="1.7"/>
<path d="M443.3 777 V786.4 M438.6 781.7 H448" stroke="#000" stroke-width="1.4"/>
<path d="M420.9 800 Q420.9 797.6 423.3 797.6 L463.3 797.6 Q465.7 797.6 465.7 800 L465.7 831 A22.4 22.4 0 0 1 420.9 831 Z" fill="#fff" stroke="#000" stroke-width="1.5"/>
<path d="M421.6 798.4 H465" stroke="#000" stroke-width="2.4"/>
<circle cx="443.3" cy="830.8" r="13.8" fill="#fff" stroke="#000" stroke-width="1.4"/>
<circle cx="432.5" cy="808" r="5.2" fill="#fff" stroke="#000" stroke-width="1.3"/>
<path d="M432.5 803.6 V808.6 M428.4 808.6 H436.6 M429.8 810.4 H435.2" stroke="#000" stroke-width="0.9" fill="none"/>
<g transform="translate(265,930) scale(0.11670)" fill="#fff" stroke="#000" stroke-width="13" stroke-linejoin="round" stroke-linecap="round">
<path d="M52 104 L130 124" stroke-width="30" stroke-dasharray="7 5" stroke-linecap="butt" fill="none"/>
<path d="M46 102 L56 106" stroke-width="30" fill="none"/>
<path d="M128 120 L205 142" stroke-width="14" fill="none"/>
<g transform="translate(342.76,42.85) scale(0.67797)" stroke-width="19">
<g transform="translate(0,0)">
<path d="M450 468 L450 690 L482 702 L602 1062 L440 1112 L700 1180 L900 1120 L872 1100 L790 440 L752 300 L762 212 L600 400 Z"/>
<path d="M770 470 L872 1100" fill="none" stroke-width="34"/>
<path d="M600 420 L740 672 L832 1150 M650 680 L702 1140 M492 702 L622 1072 L470 1112 M450 470 L482 562 L610 612 L652 582 L600 478 M482 562 L482 700 M500 640 L700 670 L740 672 M560 350 L610 612" fill="none" stroke-width="16"/>
<path d="M100 158 L132 134 L190 118 L250 78 L762 212 L748 240 L750 350 L770 435 L630 472 L556 470 L440 466 L130 400 L100 376 Z"/>
<path d="M190 118 L650 236 L745 215 M118 146 L585 282 L612 250 L745 215 M108 236 L556 336 L585 282 M120 386 L556 470 L556 336 M600 400 L750 350 M590 330 L600 400 L630 472 M100 158 L100 376" fill="none" stroke-width="16"/>
</g></g>
<path d="M350 100 Q385 88 420 100 L420 292 Q385 300 338 262 Q318 180 350 100 Z"/>
<path d="M388 92 L515 98 M350 100 Q322 180 338 262" fill="none" stroke-width="11"/>
<path d="M202 106 L292 80 Q330 84 352 100 Q322 180 338 264 L246 236 L202 172 Q190 140 202 106 Z"/>
<path d="M246 100 Q222 165 246 236 M292 80 Q262 96 246 100" fill="none" stroke-width="11"/>
<path d="M635 810 L760 772 L985 815 L850 870 Z"/>
<path d="M635 810 L850 870 L850 1106 L630 1060 Z"/>
<path d="M850 870 L985 815 L980 1052 L850 1106 Z"/>
<path d="M822 862 L822 1098 M640 1040 L822 1080 M862 1085 L978 1036 M660 818 L770 786 L940 818 M760 772 L770 800" fill="none" stroke-width="9"/>
</g>
<g transform="translate(215,970) scale(0.07500)" stroke="#111" stroke-linejoin="round" stroke-linecap="round">
<path d="M120 200 Q130 150 200 142 L560 142 L680 100 L700 150 L945 150 L945 118 L985 118 L985 345 L945 345 L945 318 L700 318 L690 375 L560 322 L200 322 Q130 310 120 260 Z" fill="#161616" stroke-width="14"/>
<path d="M150 190 L185 190 M150 270 L185 270 M205 175 L240 175 M205 285 L240 285 M260 180 L330 175 M270 290 L330 290 M380 180 L440 178 M385 288 L445 290 M490 182 L550 178 M495 285 L550 288 M575 190 L640 188 M580 280 L640 282" stroke="#fff" stroke-width="22" stroke-linecap="butt" fill="none"/>
<rect x="672" y="170" width="36" height="120" fill="#fff" stroke="none"/>
<path d="M890 195 L935 195 L935 275 L890 275 Z" fill="#fff" stroke="none"/>
<path d="M760 215 V255 M800 215 V255 M840 215 V255" stroke="#fff" stroke-width="14" fill="none"/>
<path d="M150 668 L1050 772" stroke="#161616" stroke-width="86" stroke-dasharray="22 9" stroke-linecap="butt" fill="none"/>
<path d="M150 668 L1050 772" stroke="#161616" stroke-width="62" stroke-linecap="butt" fill="none"/>
<path d="M82 660 L160 624 L160 712 Z" fill="#161616" stroke-width="6"/>
<path d="M1040 760 L1088 730 L1082 830 L1040 800 Z" fill="#fff" stroke-width="12"/>
</g>
<text transform="translate(257.5,1012.5) scale(0.84,1)" font-size="12.8" font-weight="bold" stroke="#000" stroke-width="0.25">x2</text>
</svg>
</body></html>
